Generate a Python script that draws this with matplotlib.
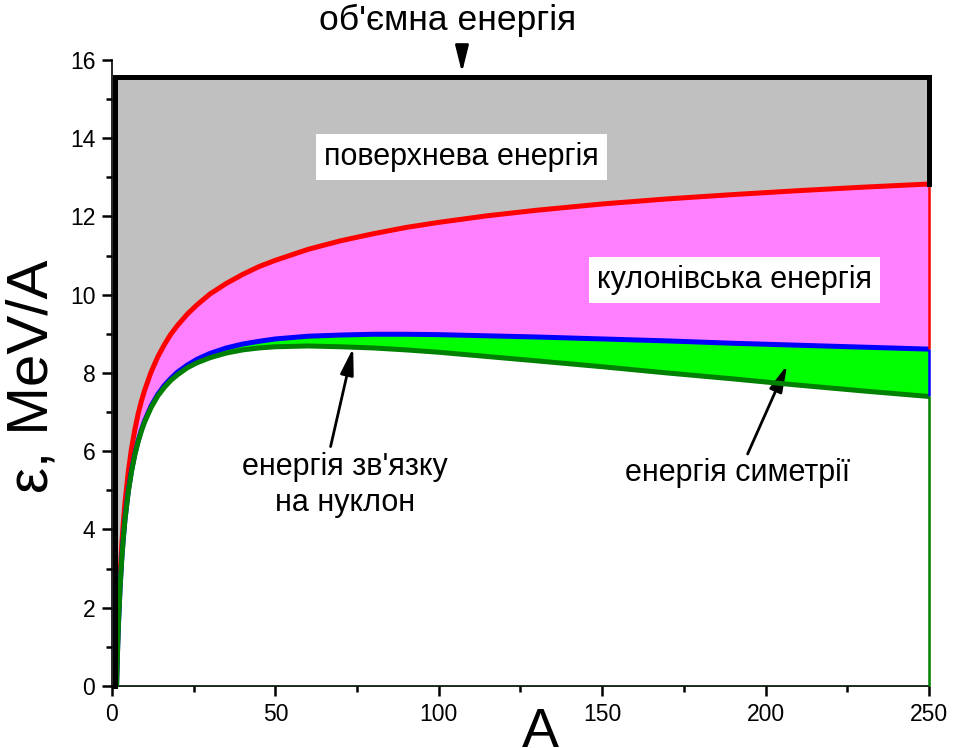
import matplotlib
matplotlib.use("Agg")
import matplotlib.pyplot as plt
import numpy as np

plt.rcParams['font.family'] = ['Liberation Sans', 'DejaVu Sans']

# mass number and energy per nucleon (MeV/A) of each term in the liquid-drop picture
A = [1, 1.25, 1.5, 1.75, 2, 2.5, 3, 3.5, 4, 5, 6, 7, 8, 9, 10, 12, 14, 16, 18, 20,
     23, 26, 30, 35, 40, 45, 50, 60, 70, 80, 90, 100, 115, 130, 150, 170, 190,
     210, 230, 250]
volume = [15.56] * len(A)
surface = [-1.67, -0.44, 0.51, 1.26, 1.88, 2.87, 3.61, 4.21, 4.71, 5.48, 6.08,
           6.55, 6.95, 7.28, 7.56, 8.03, 8.41, 8.72, 8.99, 9.21, 9.50, 9.74,
           10.02, 10.29, 10.52, 10.72, 10.88, 11.16, 11.38, 11.56, 11.72, 11.85,
           12.02, 12.16, 12.32, 12.45, 12.56, 12.66, 12.75, 12.83]
coulomb = [-1.85, -0.64, 0.28, 1.00, 1.60, 2.54, 3.25, 3.81, 4.27, 4.98, 5.51,
           5.93, 6.26, 6.54, 6.78, 7.16, 7.45, 7.68, 7.86, 8.02, 8.20, 8.35,
           8.50, 8.64, 8.74, 8.81, 8.87, 8.94, 8.97, 8.99, 8.99, 8.98, 8.95,
           8.92, 8.87, 8.82, 8.76, 8.71, 8.66, 8.61]
binding = [-1.85, -0.64, 0.27, 1.00, 1.60, 2.54, 3.24, 3.80, 4.26, 4.97, 5.49,
           5.91, 6.24, 6.52, 6.75, 7.12, 7.41, 7.63, 7.81, 7.95, 8.13, 8.26,
           8.39, 8.51, 8.59, 8.64, 8.67, 8.69, 8.67, 8.64, 8.59, 8.53, 8.42,
           8.31, 8.16, 8.00, 7.85, 7.69, 7.54, 7.40]

A = np.array(A)
volume = np.array(volume)
surface = np.array(surface)
coulomb = np.array(coulomb)
binding = np.array(binding)

fig = plt.figure(figsize=(9.61, 7.48), dpi=100)
ax = fig.add_axes([0.1165, 0.0829, 0.8502, 0.8369])

# filled bands, drawn from the top term downwards
ax.fill_between(A, 0, volume, color='#c0c0c0', lw=0)
ax.fill_between(A, 0, surface, color='#ff80ff', lw=0)
ax.fill_between(A, 0, coulomb, color='#00ff00', lw=0)
ax.fill_between(A, 0, binding, color='white', lw=0)

# curves
lw = 3.6
ax.plot([A[0], A[0], A[-1], A[-1]], [0, volume[0], volume[-1], surface[-1]],
        color='black', lw=lw, solid_joinstyle='miter', clip_on=False, zorder=5)
ax.plot(A, surface, color='red', lw=lw, zorder=4)
ax.plot(A, coulomb, color='blue', lw=lw, zorder=4)
ax.plot(A, binding, color='green', lw=lw, zorder=4)
ax.vlines(A[-1], coulomb[-1], surface[-1], color='red', lw=1.8, clip_on=False, zorder=4)
ax.vlines(A[-1], binding[-1], coulomb[-1], color='blue', lw=1.8, clip_on=False, zorder=4)
ax.vlines(A[-1], 0, binding[-1], color='green', lw=1.8, clip_on=False, zorder=4)
ax.hlines(0, A[0], A[-1], color='green', lw=1.0, zorder=4)

ax.set_xlim(0, 250)
ax.set_ylim(0, 16)
ax.set_xticks(np.arange(0, 251, 50))
ax.set_xticks(np.arange(25, 251, 50), minor=True)
ax.set_yticks(np.arange(0, 17, 2))
ax.set_yticks(np.arange(1, 16, 2), minor=True)
ax.tick_params(which='major', direction='out', length=7, width=1.8, labelsize=16.5, pad=5)
ax.tick_params(which='minor', direction='out', length=4, width=1.8)
for side in ['top', 'right']:
    ax.spines[side].set_visible(False)
ax.spines['left'].set_linewidth(1.2)
ax.spines['bottom'].set_linewidth(1.2)
ax.set_facecolor('white')

ax.set_ylabel('ε, MeV/A', fontsize=42, labelpad=0)
ax.yaxis.set_label_coords(-0.064, 0.495)
fig.text(0.5625, 0.002, 'A', fontsize=40, ha='center', va='baseline')

# labels and arrows
box = dict(facecolor='white', edgecolor='none', pad=6)
ax.text(107, 13.52, 'поверхнева енергія', fontsize=22, ha='center', va='center', bbox=box)
ax.text(190.5, 10.38, 'кулонівська енергія', fontsize=22, ha='center', va='center', bbox=box)
ax.text(71.3, 5.14, "енергія зв'язку\nна нуклон", fontsize=22, ha='center', va='center',
        linespacing=1.25)
ax.text(191.4, 5.44, 'енергія симетрії', fontsize=22, ha='center', va='center')
ax.text(102.8, 17.0, "об'ємна енергія", fontsize=25.5, ha='center', va='center', clip_on=False)

arrow = dict(arrowstyle='-|>,head_length=0.8,head_width=0.2', color='black', lw=2,
             mutation_scale=20, shrinkA=0, shrinkB=0)
ax.annotate('', xy=(107.1, 15.68), xytext=(107.1, 16.36), arrowprops=arrow,
            annotation_clip=False)
ax.annotate('', xy=(73.8, 8.64), xytext=(66.9, 6.12), arrowprops=arrow)
ax.annotate('', xy=(206.6, 8.20), xytext=(194.5, 5.93), arrowprops=arrow)

fig.savefig('out.png', dpi=100)
